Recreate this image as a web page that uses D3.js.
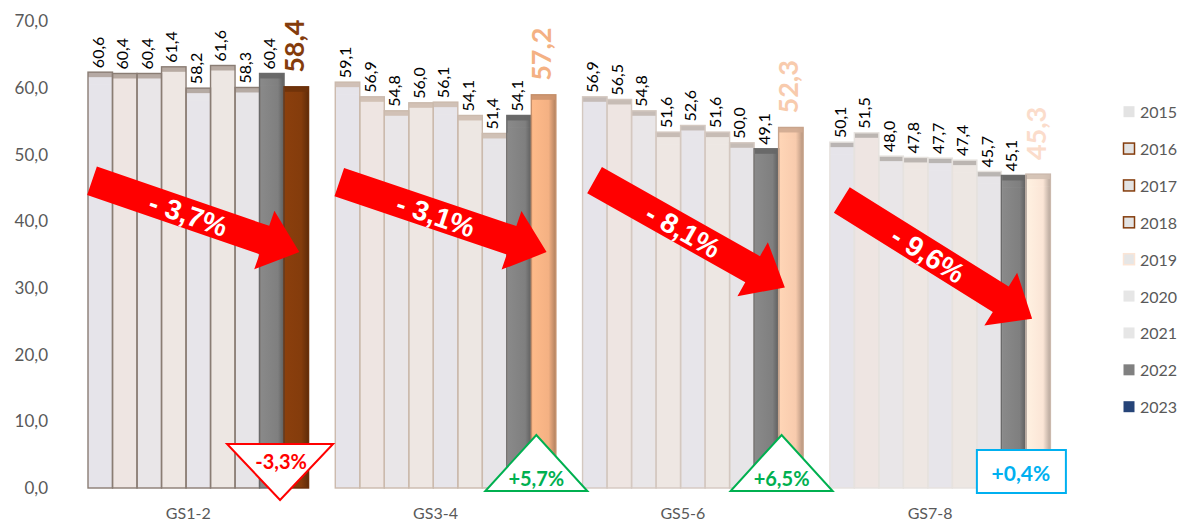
<!DOCTYPE html>
<html>
<head>
<meta charset="utf-8">
<script src="https://cdn.jsdelivr.net/npm/d3@7"></script>
<style>
  html, body { margin: 0; padding: 0; background: #ffffff; }
  svg { display: block; }
</style>
</head>
<body>
<svg id="chart" width="1181" height="525"></svg>
<script>
// ---------- DATA ----------
const categories = ["GS1-2", "GS3-4", "GS5-6", "GS7-8"];
const years = ["2015", "2016", "2017", "2018", "2019", "2020", "2021", "2022", "2023"];
const v2015 = [60.6, 59.1, 56.9, 50.1];
const v2016 = [60.4, 56.9, 56.5, 51.5];
const v2017 = [60.4, 54.8, 54.8, 48.0];
const v2018 = [61.4, 56.0, 51.6, 47.8];
const v2019 = [58.2, 56.1, 52.6, 47.7];
const v2020 = [61.6, 54.1, 51.6, 47.4];
const v2021 = [58.3, 51.4, 50.0, 45.7];
const v2022 = [60.4, 54.1, 49.1, 45.1];
const v2023 = [58.4, 57.2, 52.3, 45.3];
const yTicks = [0, 10, 20, 30, 40, 50, 60, 70];
const trendLabels = ["- 3,7%", "- 3,1%", "- 8,1%", "- 9,6%"];
const changeLabels = ["-3,3%", "+5,7%", "+6,5%", "+0,4%"];
const changeKinds = ["down", "up", "up", "flat"];

const seriesByYear = [v2015, v2016, v2017, v2018, v2019, v2020, v2021, v2022, v2023];

// ---------- STYLE ----------
const lightFills = ["#e6e4ea", "#eee5e2", "#e9e6e8", "#eee7e3", "#e7e5ea", "#ede7e3", "#e7e5e8"];
const groupStroke = ["#8a7d74", "#cbbaad", "#d4c8c0", "#e6e2de"];
const groupCap = ["#a4968c", "#c8b4a6", "#b9aea6", "#aaa4a0"];
const color2022 = "#7f7f7f";
const colors2023 = ["#843c0c", "#f4b183", "#f8cbad", "#fbe5d6"];
const labelColors2023 = ["#843c0c", "#f4b183", "#f8cbad", "#fbdccb"];
const textGrey = "#595959";
const fmt = v => d3.format(".1f")(v).replace(".", ",");

const svg = d3.select("#chart");
const defs = svg.append("defs");

// ---------- SCALES ----------
const y = d3.scaleLinear().domain([0, 70]).range([488, 21.5]);
const x = d3.scaleBand().domain(categories).range([88, 1050.4]).paddingInner(0.108).paddingOuter(0);
const xi = d3.scaleBand().domain(years).range([0, x.bandwidth()]).padding(0);
const depth = 12;

// gradients for 2022/2023 bars
colors2023.forEach((c, g) => {
  const gr = defs.append("linearGradient").attr("id", "g23_" + g).attr("x1", "0").attr("x2", "1");
  gr.append("stop").attr("offset", "0%").attr("stop-color", d3.color(c).brighter(0.15));
  gr.append("stop").attr("offset", "70%").attr("stop-color", c);
  gr.append("stop").attr("offset", "100%").attr("stop-color", d3.color(c).darker(0.9));
});
{
  const gr = defs.append("linearGradient").attr("id", "g22").attr("x1", "0").attr("x2", "1");
  gr.append("stop").attr("offset", "0%").attr("stop-color", "#8a8a8a");
  gr.append("stop").attr("offset", "75%").attr("stop-color", color2022);
  gr.append("stop").attr("offset", "100%").attr("stop-color", "#5e5e5e");
}

// ---------- Y AXIS ----------
const yAxis = d3.axisLeft(y).tickValues(yTicks).tickSize(0).tickPadding(0).tickFormat(fmt);
const ya = svg.append("g").attr("transform", "translate(48,0)").call(yAxis);
ya.select(".domain").remove();
ya.selectAll("text").attr("fill", textGrey).style("font-family", "Lato, 'Open Sans', sans-serif").style("font-size", "17px");

// ---------- X AXIS ----------
const xa = svg.append("g").attr("transform", "translate(-10,505)")
  .call(d3.axisBottom(x).tickSize(0).tickPadding(0));
xa.select(".domain").remove();
xa.selectAll("text").attr("fill", textGrey).attr("dy", "0.9em")
  .style("font-family", "Lato, 'Open Sans', sans-serif").style("font-size", "16px");

// ---------- BARS ----------
const barData = [];
categories.forEach((cat, g) => {
  years.forEach((yr, i) => {
    barData.push({ cat, g, yr, i, v: seriesByYear[i][g] });
  });
});
function fillOf(d) {
  if (d.i === 8) return "url(#g23_" + d.g + ")";
  if (d.i === 7) return "url(#g22)";
  return lightFills[d.i];
}
function strokeOf(d) {
  if (d.i === 8) return d3.color(colors2023[d.g]).darker(0.6);
  if (d.i === 7) return "#6a6a6a";
  return groupStroke[d.g];
}
function capOf(d) {
  if (d.i === 8) return d3.color(colors2023[d.g]).darker(0.5);
  if (d.i === 7) return "#666666";
  return groupCap[d.g];
}

const bars = svg.append("g").attr("class", "bars");
const bx = d => x(d.cat) + xi(d.yr);
// bar bodies
bars.selectAll("rect.bar").data(barData).join("rect")
  .attr("class", "bar")
  .attr("x", bx)
  .attr("y", d => y(d.v))
  .attr("width", xi.bandwidth())
  .attr("height", d => y(0) - y(d.v))
  .attr("fill", fillOf);
// 3D top extension (depth)
bars.selectAll("rect.cap").data(barData).join("rect")
  .attr("class", "cap")
  .attr("x", bx)
  .attr("y", d => y(d.v) - depth)
  .attr("width", xi.bandwidth())
  .attr("height", depth + 0.5)
  .attr("fill", fillOf);
bars.selectAll("rect.captop").data(barData).join("rect")
  .attr("class", "captop")
  .attr("x", bx)
  .attr("y", d => y(d.v) - depth)
  .attr("width", xi.bandwidth())
  .attr("height", 5)
  .attr("fill", capOf)
  .attr("opacity", d => d.i >= 7 ? 0.9 : 0.75);
// outlines
bars.selectAll("rect.outline").data(barData).join("rect")
  .attr("class", "outline")
  .attr("x", bx)
  .attr("y", d => y(d.v) - depth)
  .attr("width", xi.bandwidth())
  .attr("height", d => y(0) - y(d.v) + depth)
  .attr("fill", "none")
  .attr("stroke", strokeOf)
  .attr("stroke-width", 1.4);

// ---------- VALUE LABELS ----------
const labels = svg.append("g").attr("class", "labels");
labels.selectAll("text").data(barData).join("text")
  .attr("transform", d => {
    const cx = bx(d) + xi.bandwidth() / 2 - 3;
    const ty = y(d.v) - (d.i === 8 ? 26 : 16);
    return `translate(${cx},${ty}) rotate(-90)`;
  })
  .attr("text-anchor", "start")
  .attr("dominant-baseline", "central")
  .attr("fill", d => d.i === 8 ? labelColors2023[d.g] : "#000000")
  .style("font-family", "Lato, 'Open Sans', sans-serif")
  .style("font-size", d => d.i === 8 ? "27px" : "16px")
  .style("font-weight", d => d.i === 8 ? "700" : "400")
  .text(d => fmt(d.v));

// ---------- TREND ARROWS ----------
const arrowFrom = [46.1, 45.9, 46.2, 43.2];
const arrowTo = [35.4, 35.4, 30.1, 25.4];
const arrows = svg.append("g").attr("class", "arrows");
categories.forEach((cat, g) => {
  const x0 = x(cat) + 4 + (g >= 2 ? 8 : 0);
  const x1 = x(cat) + xi("2023") + xi.bandwidth() / 2 + (g >= 2 ? -6 : 3);
  const p0 = [x0, y(arrowFrom[g])];
  const p1 = [x1, y(arrowTo[g])];
  const dx = p1[0] - p0[0], dy = p1[1] - p0[1];
  const L = Math.hypot(dx, dy);
  const ang = Math.atan2(dy, dx) * 180 / Math.PI;
  const sw = 15, hw = 31, hl = 37;
  const pts = [[0, -sw], [L - hl, -sw], [L - hl, -hw], [L, 0], [L - hl, hw], [L - hl, sw], [0, sw]];
  const ag = arrows.append("g").attr("transform", `translate(${p0[0]},${p0[1]}) rotate(${ang})`);
  ag.append("polygon").attr("points", pts.map(p => p.join(",")).join(" ")).attr("fill", "#ff0000");
  ag.append("text")
    .attr("x", 102).attr("y", 1)
    .attr("text-anchor", "middle")
    .attr("dominant-baseline", "central")
    .attr("fill", "#ffffff")
    .style("font-family", "'Liberation Sans', Arial, sans-serif")
    .style("font-weight", "700")
    .style("font-size", "28px")
    .text(trendLabels[g]);
});

// ---------- CHANGE BADGES ----------
const badgeShift = [-4, 5, 3, -5];
const badges = svg.append("g").attr("class", "badges");
categories.forEach((cat, g) => {
  const cx = x(cat) + xi("2023") + badgeShift[g];
  const kind = changeKinds[g];
  const ff = "Lato, 'Open Sans', sans-serif";
  if (kind === "down") {
    badges.append("polygon")
      .attr("points", [[cx - 53, 444], [cx + 53, 444], [cx, 500]].map(p => p.join(",")).join(" "))
      .attr("fill", "#ffffff").attr("stroke", "#ff0000").attr("stroke-width", 2);
    badges.append("text").attr("x", cx + 1).attr("y", 461)
      .attr("text-anchor", "middle").attr("dominant-baseline", "central")
      .attr("fill", "#ff0000").style("font-family", ff).style("font-weight", "700")
      .style("font-size", "20px").text(changeLabels[g]);
  } else if (kind === "up") {
    badges.append("polygon")
      .attr("points", [[cx - 51, 491], [cx + 51, 491], [cx, 435]].map(p => p.join(",")).join(" "))
      .attr("fill", "#ffffff").attr("stroke", "#00b050").attr("stroke-width", 2);
    badges.append("text").attr("x", cx).attr("y", 478)
      .attr("text-anchor", "middle").attr("dominant-baseline", "central")
      .attr("fill", "#00b050").style("font-family", ff).style("font-weight", "700")
      .style("font-size", "20px").text(changeLabels[g]);
  } else {
    badges.append("rect")
      .attr("x", cx - 44).attr("y", 450).attr("width", 89).attr("height", 43)
      .attr("fill", "#ffffff").attr("stroke", "#00b0f0").attr("stroke-width", 2);
    badges.append("text").attr("x", cx).attr("y", 472)
      .attr("text-anchor", "middle").attr("dominant-baseline", "central")
      .attr("fill", "#00b0f0").style("font-family", ff).style("font-weight", "700")
      .style("font-size", "21px").text(changeLabels[g]);
  }
});

// ---------- LEGEND ----------
const legendFill = ["#e3e3e3", "#e3e3e3", "#e3e3e3", "#e3e3e3", "#e6e6e6", "#e6e6e6", "#e6e6e6", "#808080", "#264478"];
const legendStroke = [null, "#843c0c", "#843c0c", "#843c0c", "#fbe5d6", null, null, null, null];
const ly = d3.scalePoint().domain(years).range([111.7, 406.7]);
const lg = svg.append("g").attr("class", "legend");
const li = lg.selectAll("g").data(years).join("g")
  .attr("transform", d => `translate(1123,${ly(d)})`);
li.append("rect")
  .attr("x", 0.5).attr("y", -5.5).attr("width", 11).attr("height", 11)
  .attr("fill", (d, i) => legendFill[i])
  .attr("stroke", (d, i) => legendStroke[i] || "none")
  .attr("stroke-width", 1.5);
li.append("text")
  .attr("x", 17).attr("y", 0)
  .attr("dominant-baseline", "central")
  .attr("fill", textGrey)
  .style("font-family", "Lato, 'Open Sans', sans-serif")
  .style("font-size", "16px")
  .text(d => d);
</script>
</body>
</html>
